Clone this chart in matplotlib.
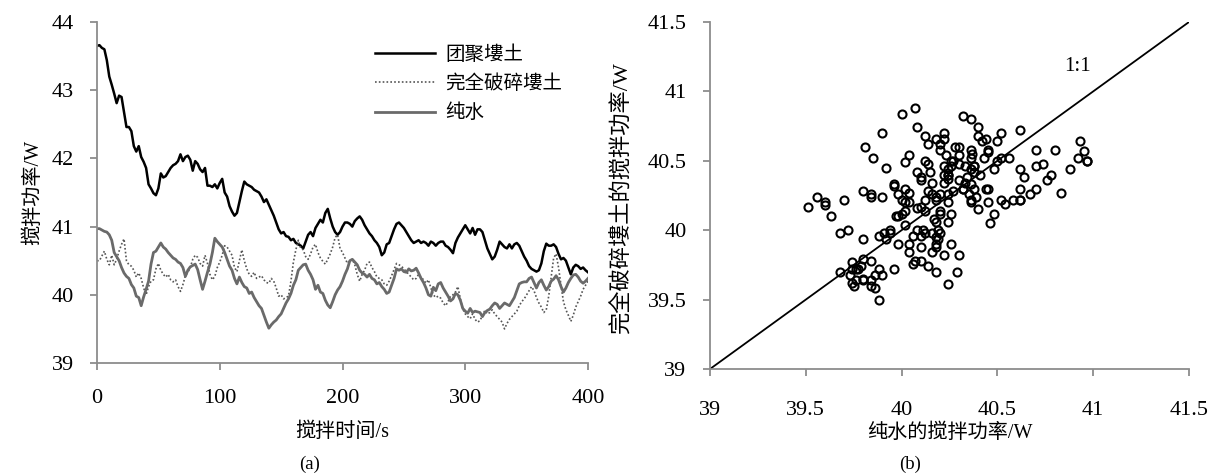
import numpy as np
import matplotlib
matplotlib.use("Agg")
import matplotlib.pyplot as plt

plt.rcParams['font.family'] = ['Liberation Serif', 'Noto Sans CJK SC']
plt.rcParams['axes.unicode_minus'] = False

# Stirring time (s), sampled every 2 s
time_s = np.arange(0, 401, 2)

# Stirring power (W) of aggregated loess soil
aggregated_soil = [
    43.65, 43.66, 43.62, 43.60, 43.44, 43.20, 43.08, 42.95, 42.81, 42.92,
    42.90, 42.68, 42.46, 42.46, 42.40, 42.18, 42.10, 42.18, 42.02, 41.95,
    41.86, 41.62, 41.56, 41.49, 41.46, 41.56, 41.78, 41.72, 41.74, 41.80,
    41.86, 41.90, 41.92, 41.96, 42.06, 41.96, 42.02, 42.04, 41.98, 41.82,
    41.96, 41.92, 41.84, 41.80, 41.86, 41.60, 41.60, 41.58, 41.62, 41.56,
    41.64, 41.70, 41.50, 41.44, 41.30, 41.22, 41.16, 41.20, 41.36, 41.52,
    41.66, 41.62, 41.60, 41.58, 41.54, 41.52, 41.50, 41.44, 41.36, 41.40,
    41.32, 41.24, 41.16, 41.06, 40.96, 40.90, 40.92, 40.86, 40.85, 40.80,
    40.82, 40.76, 40.74, 40.72, 40.68, 40.78, 40.88, 40.92, 40.86, 40.98,
    41.04, 41.10, 41.06, 41.20, 41.26, 41.12, 41.00, 40.92, 40.88, 40.92,
    41.00, 41.06, 41.06, 41.04, 41.00, 41.08, 41.12, 41.15, 41.10, 41.02,
    40.96, 40.90, 40.86, 40.80, 40.76, 40.70, 40.58, 40.62, 40.74, 40.76,
    40.86, 40.96, 41.04, 41.06, 41.02, 40.98, 40.92, 40.86, 40.80, 40.76,
    40.78, 40.80, 40.76, 40.78, 40.76, 40.72, 40.78, 40.76, 40.72, 40.76,
    40.78, 40.78, 40.72, 40.70, 40.66, 40.61, 40.76, 40.84, 40.90, 40.96,
    41.02, 40.96, 40.90, 40.98, 40.88, 40.96, 40.96, 40.92, 40.80, 40.68,
    40.60, 40.52, 40.56, 40.66, 40.78, 40.74, 40.70, 40.68, 40.74, 40.68,
    40.74, 40.76, 40.72, 40.64, 40.56, 40.50, 40.42, 40.38, 40.36, 40.34,
    40.36, 40.46, 40.64, 40.75, 40.72, 40.72, 40.74, 40.70, 40.60, 40.52,
    40.54, 40.50, 40.40, 40.30, 40.40, 40.44, 40.42, 40.38, 40.40, 40.36,
    40.33,
]

# Stirring power (W) of completely broken loess soil
broken_soil = [
    40.50, 40.50, 40.57, 40.64, 40.52, 40.44, 40.58, 40.44, 40.52, 40.64,
    40.74, 40.82, 40.50, 40.44, 40.42, 40.36, 40.26, 40.32, 40.24, 40.10,
    40.00, 40.12, 40.20, 40.22, 40.38, 40.46, 40.36, 40.30, 40.26, 40.30,
    40.22, 40.19, 40.22, 40.12, 40.05, 40.15, 40.28, 40.33, 40.40, 40.52,
    40.58, 40.55, 40.46, 40.42, 40.58, 40.46, 40.30, 40.22, 40.27, 40.40,
    40.48, 40.58, 40.72, 40.70, 40.64, 40.58, 40.40, 40.34, 40.50, 40.66,
    40.50, 40.38, 40.30, 40.27, 40.33, 40.24, 40.26, 40.28, 40.22, 40.18,
    40.17, 40.24, 40.20, 40.10, 39.98, 40.00, 39.94, 39.96, 39.98, 40.20,
    40.48, 40.66, 40.80, 40.68, 40.66, 40.56, 40.52, 40.60, 40.70, 40.74,
    40.62, 40.54, 40.49, 40.45, 40.52, 40.60, 40.70, 40.84, 40.88, 40.68,
    40.62, 40.54, 40.46, 40.50, 40.52, 40.44, 40.30, 40.20, 40.30, 40.36,
    40.46, 40.48, 40.40, 40.34, 40.26, 40.24, 40.22, 40.16, 40.14, 40.20,
    40.28, 40.37, 40.46, 40.44, 40.42, 40.38, 40.34, 40.30, 40.26, 40.22,
    40.24, 40.30, 40.26, 40.22, 40.17, 40.22, 40.10, 40.00, 39.96, 39.98,
    39.95, 39.88, 39.84, 39.90, 39.98, 40.00, 40.04, 40.12, 39.94, 39.79,
    39.72, 39.68, 39.65, 39.72, 39.64, 39.60, 39.62, 39.70, 39.77, 39.72,
    39.74, 39.78, 39.72, 39.68, 39.64, 39.60, 39.50, 39.58, 39.64, 39.68,
    39.72, 39.76, 39.84, 39.90, 39.94, 40.00, 40.06, 40.12, 40.06, 39.96,
    39.88, 39.82, 39.74, 39.78, 39.98, 40.26, 40.54, 40.60, 40.40, 40.14,
    39.90, 39.78, 39.70, 39.61, 39.70, 39.82, 39.90, 39.98, 40.08, 40.14,
    40.20,
]

# Stirring power (W) of pure water
pure_water = [
    40.97, 40.97, 40.95, 40.93, 40.92, 40.88, 40.80, 40.62, 40.56, 40.50,
    40.40, 40.32, 40.27, 40.24, 40.15, 40.10, 39.98, 39.96, 39.84, 39.97,
    40.08, 40.20, 40.45, 40.62, 40.64, 40.70, 40.76, 40.70, 40.67, 40.62,
    40.58, 40.54, 40.52, 40.48, 40.46, 40.40, 40.27, 40.36, 40.41, 40.43,
    40.45, 40.37, 40.22, 40.08, 40.20, 40.33, 40.45, 40.62, 40.83, 40.78,
    40.74, 40.70, 40.62, 40.52, 40.42, 40.36, 40.24, 40.16, 40.26, 40.18,
    40.12, 40.10, 40.02, 40.04, 39.96, 39.90, 39.84, 39.80, 39.70, 39.60,
    39.51, 39.56, 39.60, 39.63, 39.68, 39.72, 39.80, 39.88, 39.94, 40.02,
    40.14, 40.22, 40.36, 40.40, 40.44, 40.45, 40.36, 40.30, 40.22, 40.08,
    40.14, 40.04, 40.02, 39.92, 39.85, 39.81, 39.90, 40.00, 40.07, 40.12,
    40.20, 40.30, 40.38, 40.50, 40.52, 40.48, 40.44, 40.36, 40.32, 40.30,
    40.26, 40.30, 40.24, 40.22, 40.16, 40.18, 40.12, 40.08, 40.02, 40.04,
    40.14, 40.24, 40.38, 40.36, 40.38, 40.34, 40.33, 40.38, 40.35, 40.36,
    40.39, 40.32, 40.24, 40.18, 40.10, 40.00, 39.98, 40.11, 40.06, 40.16,
    40.18, 40.10, 40.04, 39.98, 39.91, 39.94, 40.02, 40.00, 39.92, 39.80,
    39.76, 39.73, 39.80, 39.74, 39.76, 39.75, 39.74, 39.68, 39.74, 39.77,
    39.79, 39.84, 39.88, 39.86, 39.80, 39.84, 39.88, 39.86, 39.84, 39.90,
    39.96, 40.06, 40.16, 40.18, 40.19, 40.19, 40.24, 40.26, 40.18, 40.10,
    40.18, 40.22, 40.14, 40.07, 40.12, 40.20, 40.23, 40.28, 40.22, 40.12,
    40.04, 40.10, 40.18, 40.24, 40.29, 40.30, 40.26, 40.20, 40.17, 40.20,
    40.24,
]

series_labels = ["团聚塿土", "完全破碎塿土", "纯水"]
left_xticks = [0, 100, 200, 300, 400]
left_yticks = [39, 40, 41, 42, 43, 44]
right_ticks = [39, 39.5, 40, 40.5, 41, 41.5]
right_ticklabels = ["39", "39.5", "40", "40.5", "41", "41.5"]

W, H = 1211, 475
fig = plt.figure(figsize=(W / 100, H / 100), dpi=100)

def px_axes(x0, y0, x1, y1):
    return fig.add_axes([x0 / W, 1 - y1 / H, (x1 - x0) / W, (y1 - y0) / H])

spine_gray = "#8c8c8c"
tick_fs = 16
cjk_fs = 14.5

def style_axes(ax, xpad, ypad):
    for side in ("top", "right"):
        ax.spines[side].set_visible(False)
    for side in ("left", "bottom"):
        ax.spines[side].set_color(spine_gray)
        ax.spines[side].set_linewidth(1.3)
    ax.tick_params(axis="both", direction="out", length=5, width=1.3,
                   color=spine_gray, labelsize=tick_fs, labelcolor="black")
    ax.tick_params(axis="x", pad=xpad)
    ax.tick_params(axis="y", pad=ypad)

# (a) stirring power over time
ax1 = px_axes(97, 22, 588, 363)
h1, = ax1.plot(time_s, aggregated_soil, color="black", lw=1.8)
h2, = ax1.plot(time_s, broken_soil, color="#555555", lw=1.2,
               linestyle=(0, (1, 1.3)))
h3, = ax1.plot(time_s, pure_water, color="#6a6a6a", lw=2.0)
ax1.set_xlim(0, 400)
ax1.set_ylim(39, 44)
ax1.set_xticks(left_xticks)
ax1.set_yticks(left_yticks)
style_axes(ax1, 14, 11.5)
ax1.legend([h1, h2, h3], series_labels, loc="upper left",
           bbox_to_anchor=(375 / W, 1 - 44 / H), bbox_transform=fig.transFigure,
           frameon=False, borderpad=0, borderaxespad=0, handlelength=3.1,
           handletextpad=0.5, labelspacing=0.42,
           prop={"family": "Noto Sans CJK SC", "size": 14})

# (b) broken soil vs pure water
ax2 = px_axes(710, 22, 1189, 369)
ax2.plot([39, 41.5], [39, 41.5], color="black", lw=1.3)
ax2.plot(pure_water, broken_soil, linestyle="none", marker="o",
         markersize=5.8, markerfacecolor="none", markeredgecolor="black",
         markeredgewidth=1.5)
ax2.text(40.92, 41.18, "1:1", fontsize=15, ha="center", va="center")
ax2.set_xlim(39, 41.5)
ax2.set_ylim(39, 41.5)
ax2.set_xticks(right_ticks)
ax2.set_xticklabels(right_ticklabels)
ax2.set_yticks(right_ticks)
ax2.set_yticklabels(right_ticklabels)
style_axes(ax2, 18, 12)

# Axis titles and panel tags
fig.text(33 / W, 1 - 192 / H, "搅拌功率/W", rotation=90, fontsize=cjk_fs,
         ha="center", va="center")
fig.text(342 / W, 1 - 432 / H, "搅拌时间/s", fontsize=cjk_fs,
         ha="center", va="center")
fig.text(310 / W, 1 - 464 / H, "(a)", fontsize=13.5, ha="center", va="center")
fig.text(622 / W, 1 - 198 / H, "完全破碎塿土的搅拌功率/W", rotation=90,
         fontsize=16, ha="center", va="center")
fig.text(950 / W, 1 - 433 / H, "纯水的搅拌功率/W", fontsize=cjk_fs,
         ha="center", va="center")
fig.text(910 / W, 1 - 464 / H, "(b)", fontsize=13.5, ha="center", va="center")

fig.savefig("out.png", dpi=100)
